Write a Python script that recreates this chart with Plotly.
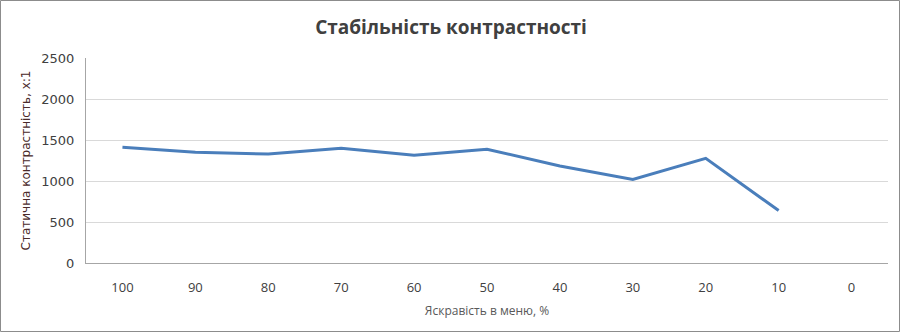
import plotly.graph_objects as go

categories = ["100", "90", "80", "70", "60", "50", "40", "30", "20", "10", "0"]
contrast = [1411, 1351, 1329, 1400, 1314, 1388, 1184, 1020, 1277, 640, None]
y_ticks = [0, 500, 1000, 1500, 2000, 2500]

W, H = 900, 332
L, R, T, B = 86, 12, 58, 69
pw, ph = W - L - R, H - T - B

fig = go.Figure()
fig.add_trace(go.Scatter(
    x=categories, y=contrast, mode="lines",
    line=dict(color="#4a7ebb", width=3), connectgaps=False,
    hoverinfo="skip", showlegend=False,
))

fig.update_layout(
    width=W, height=H,
    margin=dict(l=L, r=R, t=T, b=B),
    paper_bgcolor="white", plot_bgcolor="white",
    title=dict(text="<b>Стабільність контрастності</b>", x=451 / W, xref="container",
               xanchor="center", y=1 - 27 / H, yanchor="middle",
               font=dict(family="Open Sans", size=19, color="#404040")),
    xaxis=dict(
        type="category", categoryorder="array", categoryarray=categories,
        range=[-0.5, len(categories) - 0.5],
        showline=True, linecolor="#a6a6a6", linewidth=1,
        showgrid=False, ticks="outside", ticklen=12, tickcolor="rgba(0,0,0,0)",
        tickfont=dict(family="Open Sans", size=13, color="#404040"),
        title=dict(text="Яскравість в меню, %", standoff=12,
                   font=dict(family="Open Sans", size=12, color="#595959")),
    ),
    yaxis=dict(
        range=[0, 2500], tickvals=y_ticks,
        showline=True, linecolor="#a6a6a6", linewidth=1,
        gridcolor="#d9d9d9", gridwidth=1, zeroline=False,
        ticks="outside", ticklen=8, tickcolor="rgba(0,0,0,0)",
        tickfont=dict(family="DejaVu Sans", size=13, color="#404040"),
        title=dict(text="Статична контрастність, x:1", standoff=8,
                   font=dict(family="DejaVu Sans", size=12, color="#4a2a2a")),
    ),
    shapes=[dict(
        type="rect", xref="paper", yref="paper",
        x0=(0.5 - L) / pw, x1=(W - 0.5 - L) / pw,
        y0=-(B - 0.5) / ph, y1=1 + (T - 0.5) / ph,
        line=dict(color="#8c8c8c", width=1), layer="below",
    )],
)

fig.write_html("out.html")
